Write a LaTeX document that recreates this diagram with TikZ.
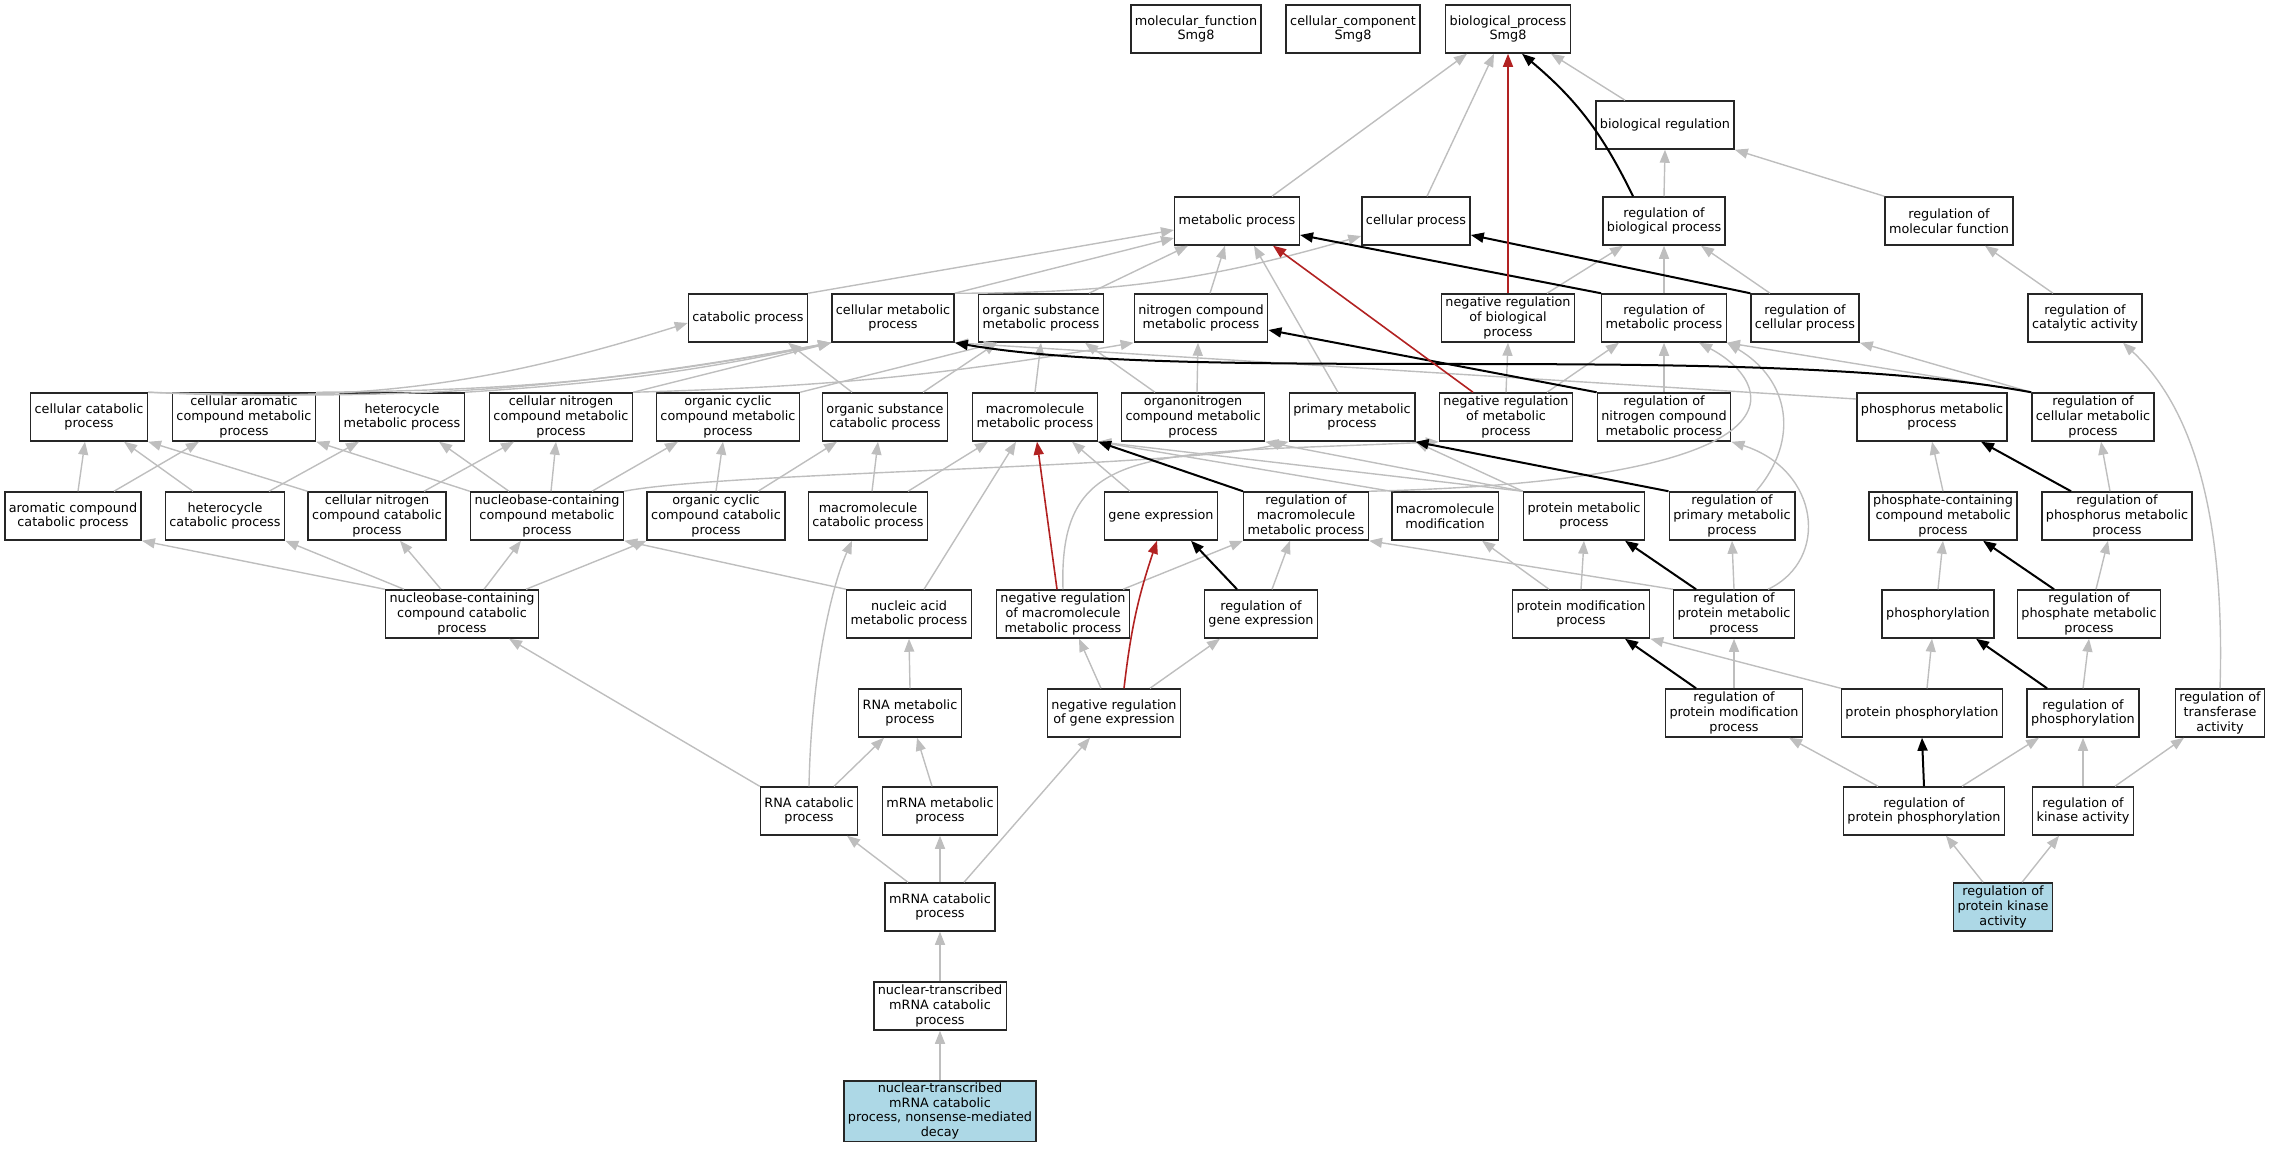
\documentclass[tikz,border=0pt]{standalone}
\usepackage{fontspec}
\setmainfont{DejaVu Sans}
\usetikzlibrary{arrows.meta}
\definecolor{egray}{RGB}{190,190,190}
\definecolor{nred}{RGB}{178,34,34}
\definecolor{sblue}{RGB}{173,216,230}
\tikzset{box/.style = {draw=black!85, line width=1.5pt, rectangle, align=center,
                       minimum height=48pt, inner xsep=4pt, inner ysep=2pt,
                       font=\fontsize{12.8}{14.7}\selectfont}}
\tikzset{seed/.style = {box, fill=sblue}}
\tikzset{isa/.style = {draw=egray, line width=1.4pt, -{Triangle[length=13pt,width=10pt]}}}
\tikzset{regl/.style = {draw=black, line width=2pt, -{Triangle[length=13pt,width=10pt]}}}
\tikzset{negr/.style = {draw=nred, line width=1.6pt, -{Triangle[length=13pt,width=10pt]}}}

\begin{document}
\begin{tikzpicture}[x=1pt, y=-1pt]
    \useasboundingbox (0,0) rectangle (2269,1149);
    \node [box] (mf) at (1196, 29) {molecular\_function\\Smg8};
    \node [box] (cc) at (1353, 29) {cellular\_component\\Smg8};
    \node [box] (bp) at (1508, 29) {biological\_process\\Smg8};
    \node [box] (breg) at (1665, 125) {biological regulation};
    \node [box] (met) at (1237, 221) {metabolic process};
    \node [box] (cel) at (1416, 221) {cellular process};
    \node [box] (rbp) at (1664, 221) {regulation of\\biological process};
    \node [box] (rmf) at (1949, 221) {regulation of\\molecular function};
    \node [box] (cat) at (748, 318) {catabolic process};
    \node [box] (cmet) at (893, 318) {cellular metabolic\\process};
    \node [box] (osm) at (1041, 318) {organic substance\\metabolic process};
    \node [box] (ncm) at (1201, 318) {nitrogen compound\\metabolic process};
    \node [box] (nrbp) at (1508, 318) {negative regulation\\of biological\\process};
    \node [box] (rmet) at (1664, 318) {regulation of\\metabolic process};
    \node [box] (rcel) at (1805, 318) {regulation of\\cellular process};
    \node [box] (rcat) at (2085, 318) {regulation of\\catalytic activity};
    \node [box] (ccat) at (89, 417) {cellular catabolic\\process};
    \node [box] (cacm) at (244, 417) {cellular aromatic\\compound metabolic\\process};
    \node [box] (hmet) at (402, 417) {heterocycle\\metabolic process};
    \node [box] (cncm) at (561, 417) {cellular nitrogen\\compound metabolic\\process};
    \node [box] (occm) at (728, 417) {organic cyclic\\compound metabolic\\process};
    \node [box] (osc) at (885, 417) {organic substance\\catabolic process};
    \node [box] (mmet) at (1035, 417) {macromolecule\\metabolic process};
    \node [box] (onm) at (1193, 417) {organonitrogen\\compound metabolic\\process};
    \node [box] (pmet) at (1352, 417) {primary metabolic\\process};
    \node [box] (nrmet) at (1506, 417) {negative regulation\\of metabolic\\process};
    \node [box] (rncm) at (1664, 417) {regulation of\\nitrogen compound\\metabolic process};
    \node [box] (phos) at (1932, 417) {phosphorus metabolic\\process};
    \node [box] (rcm) at (2093, 417) {regulation of\\cellular metabolic\\process};
    \node [box] (acc) at (73, 516) {aromatic compound\\catabolic process};
    \node [box] (hcat) at (225, 516) {heterocycle\\catabolic process};
    \node [box] (cncc) at (377, 516) {cellular nitrogen\\compound catabolic\\process};
    \node [box] (nbcm) at (547, 516) {nucleobase-containing\\compound metabolic\\process};
    \node [box] (occc) at (716, 516) {organic cyclic\\compound catabolic\\process};
    \node [box] (mcat) at (868, 516) {macromolecule\\catabolic process};
    \node [box] (gexp) at (1161, 516) {gene expression};
    \node [box] (rmm) at (1306, 516) {regulation of\\macromolecule\\metabolic process};
    \node [box] (mmod) at (1445, 516) {macromolecule\\modification};
    \node [box] (prot) at (1584, 516) {protein metabolic\\process};
    \node [box] (rpm) at (1732, 516) {regulation of\\primary metabolic\\process};
    \node [box] (pccm) at (1943, 516) {phosphate-containing\\compound metabolic\\process};
    \node [box] (rphos) at (2117, 516) {regulation of\\phosphorus metabolic\\process};
    \node [box] (nbcc) at (462, 614) {nucleobase-containing\\compound catabolic\\process};
    \node [box] (nam) at (909, 614) {nucleic acid\\metabolic process};
    \node [box] (nrmm) at (1063, 614) {negative regulation\\of macromolecule\\metabolic process};
    \node [box] (rge) at (1261, 614) {regulation of\\gene expression};
    \node [box] (pmod) at (1581, 614) {protein modification\\process};
    \node [box] (rprot) at (1734, 614) {regulation of\\protein metabolic\\process};
    \node [box] (phosy) at (1938, 614) {phosphorylation};
    \node [box] (rpcm) at (2089, 614) {regulation of\\phosphate metabolic\\process};
    \node [box] (rnam) at (910, 713) {RNA metabolic\\process};
    \node [box] (nrge) at (1114, 713) {negative regulation\\of gene expression};
    \node [box] (rpmod) at (1734, 713) {regulation of\\protein modification\\process};
    \node [box] (pphos) at (1922, 713) {protein phosphorylation};
    \node [box] (rphosy) at (2083, 713) {regulation of\\phosphorylation};
    \node [box] (rtran) at (2220, 713) {regulation of\\transferase\\activity};
    \node [box] (rnac) at (809, 811) {RNA catabolic\\process};
    \node [box] (mrnam) at (940, 811) {mRNA metabolic\\process};
    \node [box] (rpphos) at (1924, 811) {regulation of\\protein phosphorylation};
    \node [box] (rkin) at (2083, 811) {regulation of\\kinase activity};
    \node [box] (mrnac) at (940, 907) {mRNA catabolic\\process};
    \node [seed] (rpkin) at (2003, 907) {regulation of\\protein kinase\\activity};
    \node [box] (ntmc) at (940, 1006) {nuclear-transcribed\\mRNA catabolic\\process};
    \node [seed] (nmd) at (940, 1111) {nuclear-transcribed\\mRNA catabolic\\process, nonsense-mediated\\decay};

    \foreach \a/\b in {rbp/breg, rmet/rbp, nrmet/nrbp, rncm/rmet, mrnac/mrnam, ntmc/mrnac,
                       nmd/ntmc, rnam/nam, rprot/rpm, rpmod/rprot, pmod/prot, rphosy/rpcm,
                       phosy/pccm, pccm/phos, rkin/rphosy, mmet/osm} {
      \draw [isa] (\a.north) -- (\b.south);
    }
    \draw [isa] ([xshift=35pt]met.north) -- ([xshift=-41pt]bp.south);
    \draw [isa] ([xshift=11pt]cel.north) -- ([xshift=-14pt]bp.south);
    \draw [isa] ([xshift=-40pt]breg.north) -- ([xshift=43pt]bp.south);
    \draw [isa] (rmf.north west) -- (breg.south east);
    \draw [isa] ([xshift=-32pt]rcat.north) -- ([xshift=36pt]rmf.south);
    \draw [isa] ([xshift=39pt]nrbp.north) -- ([xshift=-41pt]rbp.south);
    \draw [isa] ([xshift=-35pt]rcel.north) -- ([xshift=37pt]rbp.south);
    \draw [isa] (cat.north east) -- ([yshift=-9pt]met.west);
    \draw [isa] (cmet.north east) -- ([yshift=-17pt]met.west);
    \draw [isa] (cmet.north east) to[bend right=8] ([yshift=-15pt]cel.west);
    \draw [isa] ([xshift=48pt]osm.north) -- ([xshift=-49pt]met.south);
    \draw [isa] ([xshift=9pt]ncm.north) -- ([xshift=-12pt]met.south);
    \draw [isa] ([xshift=-14pt]pmet.north) -- ([xshift=17pt]met.south);
    \draw [isa] (ccat.north east) to[bend right=10] ([yshift=-5pt]cat.west);
    \draw [isa] (ccat.north east) to[bend right=6] (cmet.south west);
    \draw [isa] (cacm.north east) to[bend right=5] (cmet.south west);
    \draw [isa] (hmet.north east) to[bend right=4] (cmet.south west);
    \draw [isa] (cncm.north east) -- (cmet.south west);
    \draw [isa] (cncm.north east) to[bend right=4] (ncm.south west);
    \draw [isa] (occm.north east) -- ([xshift=-44pt]osm.south);
    \draw [isa] ([xshift=-33pt]osc.north) -- ([xshift=40pt]cat.south);
    \draw [isa] ([xshift=38pt]osc.north) -- ([xshift=-44pt]osm.south);
    \draw [isa] ([xshift=-38pt]onm.north) -- ([xshift=44pt]osm.south);
    \draw [isa] ([xshift=4pt]onm.north) -- ([xshift=-3pt]ncm.south);
    \draw [isa] ([xshift=41pt]nrmet.north) -- ([xshift=-45pt]rmet.south);
    \draw [isa] (rcm.north west) -- (rmet.south east);
    \draw [isa] (rcm.north west) -- (rcel.south east);
    \draw [isa] ([yshift=18pt]phos.west) -- (cmet.south east);
    \draw [isa] ([xshift=5pt]acc.north) -- ([xshift=-4pt]ccat.south);
    \draw [isa] ([xshift=41pt]acc.north) -- ([xshift=-45pt]cacm.south);
    \draw [isa] ([xshift=-32pt]hcat.north) -- ([xshift=35pt]ccat.south);
    \draw [isa] ([xshift=44pt]hcat.north) -- ([xshift=-43pt]hmet.south);
    \draw [isa] (cncc.north west) -- (ccat.south east);
    \draw [isa] ([xshift=47pt]cncc.north) -- ([xshift=-47pt]cncm.south);
    \draw [isa] (nbcm.north west) -- (cacm.south east);
    \draw [isa] ([xshift=-38pt]nbcm.north) -- ([xshift=37pt]hmet.south);
    \draw [isa] ([xshift=4pt]nbcm.north) -- ([xshift=-5pt]cncm.south);
    \draw [isa] ([xshift=45pt]nbcm.north) -- ([xshift=-50pt]occm.south);
    \draw [isa] (nbcm.north east) .. controls (720,472) and (1180,468) .. (pmet.south west);
    \draw [isa] (occc.north) -- ([xshift=-5pt]occm.south);
    \draw [isa] ([xshift=42pt]occc.north) -- ([xshift=-48pt]osc.south);
    \draw [isa] ([xshift=4pt]mcat.north) -- ([xshift=-7pt]osc.south);
    \draw [isa] ([xshift=40pt]mcat.north) -- ([xshift=-47pt]mmet.south);
    \draw [isa] ([xshift=-31pt]gexp.north) -- ([xshift=37pt]mmet.south);
    \draw [isa] (mmod.north west) -- (mmet.south east);
    \draw [isa] (prot.north west) -- (mmet.south east);
    \draw [isa] (prot.north west) -- (onm.south east);
    \draw [isa] (prot.north west) -- (pmet.south east);
    \draw [isa] (rmm.north east) .. controls (1830,480) and (1770,380) .. ([xshift=35pt]rmet.south);
    \draw [isa] ([xshift=24pt]rpm.north) .. controls (1800,440) and (1790,380) .. (rmet.south east);
    \draw [isa] ([xshift=-7pt]rphos.north) -- ([xshift=8pt]rcm.south);
    \draw [isa] (nbcc.north west) -- (acc.south east);
    \draw [isa] ([xshift=-58pt]nbcc.north) -- (hcat.south east);
    \draw [isa] ([xshift=-21pt]nbcc.north) -- ([xshift=23pt]cncc.south);
    \draw [isa] ([xshift=22pt]nbcc.north) -- ([xshift=-26pt]nbcm.south);
    \draw [isa] ([xshift=64pt]nbcc.north) -- (occc.south west);
    \draw [isa] (nam.north west) -- (nbcm.south east);
    \draw [isa] ([xshift=15pt]nam.north) -- ([xshift=-19pt]mmet.south);
    \draw [isa] ([xshift=60pt]nrmm.north) -- (rmm.south west);
    \draw [isa] (nrmm.north) .. controls (1058,440) and (1150,455) .. (nrmet.south west);
    \draw [isa] ([xshift=11pt]rge.north) -- ([xshift=-16pt]rmm.south);
    \draw [isa] ([xshift=-32pt]pmod.north) -- ([xshift=37pt]mmod.south);
    \draw [isa] (rprot.north west) -- (rmm.south east);
    \draw [isa] ([xshift=34pt]rprot.north) .. controls (1830,560) and (1820,470) .. (rncm.south east);
    \draw [isa] ([xshift=7pt]rpcm.north) -- ([xshift=-9pt]rphos.south);
    \draw [isa] ([xshift=-13pt]nrge.north) -- ([xshift=16pt]nrmm.south);
    \draw [isa] ([xshift=36pt]nrge.north) -- ([xshift=-41pt]rge.south);
    \draw [isa] (pphos.north west) -- (pmod.south east);
    \draw [isa] ([xshift=5pt]pphos.north) -- ([xshift=-6pt]phosy.south);
    \draw [isa] (rtran.north) .. controls (2225,520) and (2195,410) .. ([xshift=38pt]rcat.south);
    \draw [isa] (rnac.north west) -- ([xshift=47pt]nbcc.south);
    \draw [isa] (rnac.north) .. controls (811,680) and (830,590) .. ([xshift=-16pt]mcat.south);
    \draw [isa] ([xshift=25pt]rnac.north) -- ([xshift=-26pt]rnam.south);
    \draw [isa] ([xshift=-8pt]mrnam.north) -- ([xshift=7pt]rnam.south);
    \draw [isa] ([xshift=-46pt]rpphos.north) -- ([xshift=55pt]rpmod.south);
    \draw [isa] ([xshift=38pt]rpphos.north) -- ([xshift=-44pt]rphosy.south);
    \draw [isa] ([xshift=32pt]rkin.north) -- ([xshift=-36pt]rtran.south);
    \draw [isa] ([xshift=-32pt]mrnac.north) -- ([xshift=38pt]rnac.south);
    \draw [isa] ([xshift=24pt]mrnac.north) -- ([xshift=-24pt]nrge.south);
    \draw [isa] ([xshift=-20pt]rpkin.north) -- ([xshift=22pt]rpphos.south);
    \draw [isa] ([xshift=19pt]rpkin.north) -- ([xshift=-24pt]rkin.south);

    \draw [regl] ([xshift=-31pt]rbp.north) to[bend right=12] ([xshift=14pt]bp.south);
    \draw [regl] (rmet.north west) -- ([yshift=-14pt]met.east);
    \draw [regl] (rcel.north west) -- ([yshift=-14pt]cel.east);
    \draw [regl] (rncm.north west) -- ([yshift=-12pt]ncm.east);
    \draw [regl] (rcm.north west) .. controls (1750,340) and (1200,385) .. (cmet.south east);
    \draw [regl] (rmm.north west) -- (mmet.south east);
    \draw [regl] (rpm.north west) -- (pmet.south east);
    \draw [regl] ([xshift=-46pt]rphos.north) -- ([xshift=49pt]phos.south);
    \draw [regl] ([xshift=-24pt]rge.north) -- ([xshift=30pt]gexp.south);
    \draw [regl] ([xshift=-38pt]rprot.north) -- ([xshift=41pt]prot.south);
    \draw [regl] ([xshift=-35pt]rpcm.north) -- ([xshift=40pt]pccm.south);
    \draw [regl] ([xshift=-38pt]rpmod.north) -- ([xshift=44pt]pmod.south);
    \draw [regl] ([xshift=-36pt]rphosy.north) -- ([xshift=38pt]phosy.south);
    \draw [regl] (rpphos.north) -- (pphos.south);

    \draw [negr] (nrbp.north) -- (bp.south);
    \draw [negr] ([xshift=-33pt]nrmet.north) -- ([xshift=36pt]met.south);
    \draw [negr] ([xshift=-6pt]nrmm.north) -- ([xshift=2pt]mmet.south);
    \draw [negr] ([xshift=10pt]nrge.north) to[bend left=6] ([xshift=-4pt]gexp.south);
  \end{tikzpicture}
\end{document}
